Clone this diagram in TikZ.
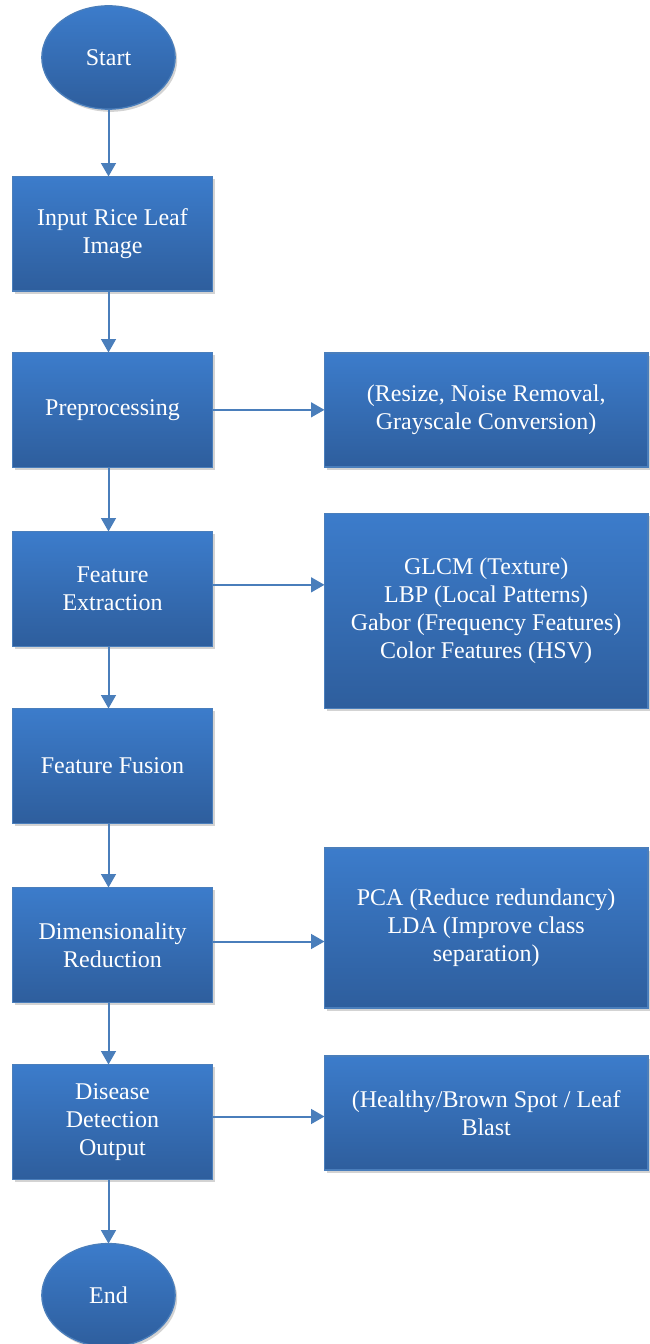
\documentclass[tikz,border=0pt]{standalone}
\usepackage{fontspec}
\setmainfont{Liberation Serif}
\usetikzlibrary{positioning, arrows.meta, shapes, shadows}
\definecolor{boxtop}{HTML}{3C7CCB}
\definecolor{boxbot}{HTML}{2E5E9D}
\definecolor{boxline}{HTML}{4A7EBB}
\tikzset{
    >={Triangle[length=10pt, width=11pt]}, % filled arrow heads
    block/.style={draw=boxline, line width=1pt, top color=boxtop, bottom color=boxbot, text=white,
        font=\fontsize{18}{21}\selectfont, align=center, inner sep=2pt, outer sep=0pt,
        drop shadow={shadow xshift=1.5pt, shadow yshift=-2pt, opacity=0.35}}, % blue boxes
    stepbox/.style={block, rectangle, minimum width=150pt, minimum height=86pt},
    notebox/.style={block, rectangle, minimum width=242.5pt},
    terminal/.style={block, ellipse, minimum width=100pt, minimum height=77.5pt},
    arr/.style={->, draw=boxline, line width=1.5pt},
}
\begin{document}
\begin{tikzpicture}[x=0.75pt, y=-0.75pt]
    \useasboundingbox (0,0) rectangle (649,1344);
    % main column
    \node[terminal] (start) at (108.5,57.5) {Start};
    \node[stepbox, below=50.5pt of start, xshift=3pt] (input) {Input Rice Leaf\\Image};
    \node[stepbox, below=46pt of input] (prep) {Preprocessing};
    \node[stepbox, below=48.25pt of prep] (extract) {Feature\\Extraction};
    \node[stepbox, below=46.75pt of extract] (fusion) {Feature Fusion};
    \node[stepbox, below=48.25pt of fusion] (reduce) {Dimensionality\\Reduction};
    \node[stepbox, below=46.75pt of reduce] (detect) {Disease\\Detection\\Output};
    \node[terminal, below=48.3pt of detect, xshift=-3pt] (end) {End};
    % side notes
    \node[notebox, minimum height=85.5pt, right=84pt of prep] (prepnote) {(Resize, Noise Removal,\\Grayscale Conversion)};
    \node[notebox, minimum height=146.5pt, right=84pt of extract, yshift=-16.5pt] (featnote) {GLCM (Texture)\\LBP (Local Patterns)\\Gabor (Frequency Features)\\Color Features (HSV)};
    \node[notebox, minimum height=120pt, right=84pt of reduce, yshift=12.75pt] (reducenote) {PCA (Reduce redundancy)\\LDA (Improve class\\separation)};
    \node[notebox, minimum height=85.5pt, right=84pt of detect, yshift=6.75pt] (detectnote) {(Healthy/Brown Spot / Leaf\\Blast};

    \draw[arr] (start) -- (start |- input.north);
    \draw[arr] (input.south -| start) -- (prep.north -| start);
    \draw[arr] (prep.south -| start) -- (extract.north -| start);
    \draw[arr] (extract.south -| start) -- (fusion.north -| start);
    \draw[arr] (fusion.south -| start) -- (reduce.north -| start);
    \draw[arr] (reduce.south -| start) -- (detect.north -| start);
    \draw[arr] (detect.south -| end) -- (end);

    \draw[arr] (prep) -- (prepnote);
    \draw[arr] ([yshift=3pt]extract.east) -- ([yshift=3pt]extract.east -| featnote.west);
    \draw[arr] ([yshift=2.5pt]reduce.east) -- ([yshift=2.5pt]reduce.east -| reducenote.west);
    \draw[arr] ([yshift=4pt]detect.east) -- ([yshift=4pt]detect.east -| detectnote.west);
\end{tikzpicture}
\end{document}
